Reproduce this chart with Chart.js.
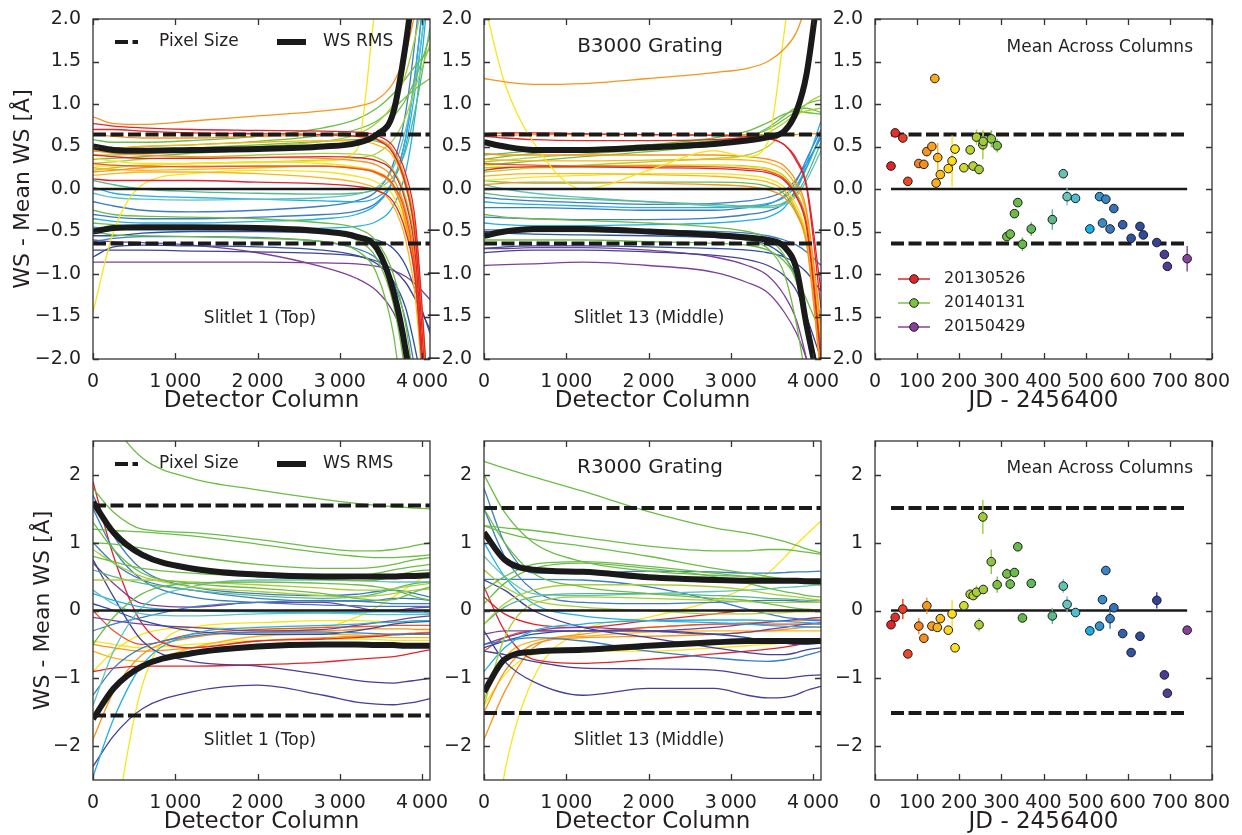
<!DOCTYPE html>
<html>
<head>
<meta charset="utf-8">
<title>Wavelength solution stability</title>
<script src="https://cdn.jsdelivr.net/npm/chart.js@4/dist/chart.umd.min.js"></script>
<style>
  html, body { margin: 0; padding: 0; background: #fff; overflow: hidden; }
  #fig { position: relative; width: 1242px; height: 835px; }
  #fig canvas { position: absolute; left: 0; top: 0; }
</style>
</head>
<body>
<div id="fig">
  <canvas id="p-b1" width="1242" height="835"></canvas>
  <canvas id="p-b13" width="1242" height="835"></canvas>
  <canvas id="p-bmean" width="1242" height="835"></canvas>
  <canvas id="p-r1" width="1242" height="835"></canvas>
  <canvas id="p-r13" width="1242" height="835"></canvas>
  <canvas id="p-rmean" width="1242" height="835"></canvas>
</div>
<script>
/* ═══════════════════════════════════════════
   WiFeS wavelength solution residuals
   ═══════════════════════════════════════════ */

// ── Detector columns where each fit is sampled ──
const COLS = [0, 250, 600, 1200, 2000, 2800, 3200, 3450, 3650, 3800, 3920, 4096];

// ── B3000, slitlet 1 ──────────────────────
const B1_RMS_HI = [0.50, 0.46, 0.45, 0.46, 0.47, 0.50, 0.54, 0.64, 0.90, 1.7, 2.6, 4];
const B1_RMS_LO = [-0.50, -0.46, -0.45, -0.45, -0.46, -0.50, -0.56, -0.70, -1.2, -1.9, -2.8, -4];
const B1_FITS = [
  ['red',    [0.77, 0.74, 0.72, 0.70, 0.69, 0.68, 0.67, 0.63, 0.50, 0.18, -0.4, -2.8]],
  ['red',    [0.70, 0.70, 0.68, 0.66, 0.65, 0.64, 0.62, 0.58, 0.42, 0.05, -0.6, -3.2]],
  ['red',    [0.12, 0.10, 0.10, 0.10, 0.08, 0.06, 0.03, -0.02, -0.15, -0.5, -1.1, -3.5]],
  ['red',    [0.40, 0.38, 0.36, 0.36, 0.37, 0.38, 0.37, 0.33, 0.20, -0.15, -0.8, -3.5]],
  ['verm',   [0.30, 0.28, 0.27, 0.26, 0.27, 0.27, 0.24, 0.19, 0.05, -0.3, -1.0, -3.5]],
  ['orange', [0.85, 0.77, 0.76, 0.80, 0.86, 0.92, 0.97, 1.05, 1.25, 1.6, 2.1, 3.0]],
  ['orange', [0.64, 0.62, 0.60, 0.60, 0.62, 0.63, 0.62, 0.59, 0.45, 0.1, -0.5, -2.8]],
  ['orange', [0.45, 0.42, 0.40, 0.38, 0.37, 0.36, 0.33, 0.28, 0.12, -0.25, -0.9, -3.5]],
  ['orange', [0.20, 0.22, 0.25, 0.27, 0.27, 0.27, 0.24, 0.18, 0.02, -0.4, -1.1, -3.5]],
  ['amber',  [0.50, 0.48, 0.50, 0.52, 0.55, 0.57, 0.56, 0.52, 0.38, 0.02, -0.6, -3.0]],
  ['amber',  [0.25, 0.23, 0.22, 0.23, 0.25, 0.27, 0.25, 0.20, 0.05, -0.35, -1.0, -3.5]],
  ['amber',  [0.16, 0.18, 0.20, 0.20, 0.18, 0.13, 0.08, 0.0, -0.2, -0.6, -1.3, -3.5]],
  ['yellow', [-1.45, -0.50, 0.05, 0.18, 0.22, 0.20, 0.15, 0.08, -0.08, -0.45, -1.1, -3.5]],
  ['yellow', [0.36, 0.33, 0.30, 0.30, 0.31, 0.33, 0.45, 2.3, 3.5, 4.5, 5, 5]],
  ['yellow', [0.27, 0.27, 0.28, 0.30, 0.32, 0.30, 0.26, 0.20, 0.05, -0.35, -1.0, -3.5]],
  ['lime',   [0.40, 0.40, 0.42, 0.45, 0.50, 0.56, 0.64, 0.78, 1.0, 1.35, 1.8, 2.6]],
  ['lime',   [0.30, 0.32, 0.35, 0.37, 0.40, 0.42, 0.41, 0.37, 0.22, -0.1, -0.7, -3.0]],
  ['lime',   [0.22, 0.25, 0.28, 0.30, 0.32, 0.34, 0.36, 0.42, 0.58, 0.85, 1.2, 1.7]],
  ['green',  [0.58, 0.55, 0.55, 0.57, 0.62, 0.72, 0.82, 0.95, 1.12, 1.3, 1.45, 1.65]],
  ['green',  [0.50, 0.48, 0.50, 0.52, 0.56, 0.63, 0.70, 0.80, 0.95, 1.08, 1.18, 1.3]],
  ['green',  [0.35, 0.36, 0.38, 0.42, 0.46, 0.51, 0.56, 0.66, 0.85, 1.05, 1.3, 1.8]],
  ['green',  [0.45, 0.44, 0.45, 0.48, 0.52, 0.56, 0.58, 0.56, 0.42, 0.05, -0.6, -2.8]],
  ['green',  [-0.25, -0.30, -0.32, -0.33, -0.35, -0.40, -0.46, -0.62, -1.0, -1.6, -2.4, -3.5]],
  ['green',  [-0.50, -0.54, -0.55, -0.56, -0.58, -0.62, -0.72, -1.0, -1.7, -2.8, -3.5, -4]],
  ['green',  [-0.40, -0.42, -0.45, -0.47, -0.48, -0.52, -0.60, -0.82, -1.35, -2.2, -3.2, -4]],
  ['sea',    [0.10, 0.05, 0.00, -0.03, -0.05, -0.06, -0.05, 0.00, 0.15, 0.45, 0.95, 1.9]],
  ['teal',   [-0.05, -0.10, -0.12, -0.13, -0.12, -0.10, -0.06, 0.02, 0.25, 0.7, 1.3, 2.5]],
  ['cyan',   [-0.35, -0.38, -0.40, -0.40, -0.38, -0.35, -0.30, -0.18, 0.10, 0.6, 1.4, 3]],
  ['cyan',   [0.02, -0.05, -0.08, -0.10, -0.12, -0.14, -0.15, -0.10, 0.10, 0.5, 1.2, 2.6]],
  ['cyan',   [-0.45, -0.47, -0.48, -0.48, -0.47, -0.46, -0.44, -0.38, -0.2, 0.2, 0.9, 2.5]],
  ['blue',   [-0.15, -0.20, -0.25, -0.27, -0.25, -0.20, -0.14, -0.02, 0.30, 0.9, 1.8, 3.5]],
  ['blue',   [-0.30, -0.33, -0.35, -0.35, -0.33, -0.30, -0.26, -0.16, 0.10, 0.6, 1.4, 3]],
  ['blue',   [-0.62, -0.58, -0.56, -0.56, -0.57, -0.62, -0.70, -0.82, -1.1, -1.55, -2.2, -4]],
  ['navy',   [-0.55, -0.55, -0.52, -0.50, -0.50, -0.52, -0.55, -0.60, -0.70, -0.9, -1.2, -1.7]],
  ['navy',   [-0.80, -0.68, -0.66, -0.67, -0.68, -0.72, -0.78, -0.88, -1.08, -1.4, -1.9, -2.8]],
  ['indigo', [-0.72, -0.72, -0.72, -0.73, -0.74, -0.76, -0.79, -0.85, -0.95, -1.1, -1.3, -1.65]],
  ['purple', [-0.60, -0.62, -0.63, -0.66, -0.75, -0.92, -1.05, -1.2, -1.45, -1.8, -2.3, -3]],
  ['purple', [-0.86, -0.86, -0.86, -0.86, -0.86, -0.87, -0.88, -0.91, -0.96, -1.03, -1.12, -1.3]],
];

// ── B3000, slitlet 13 ─────────────────────
const B13_RMS_HI = [0.55, 0.50, 0.46, 0.46, 0.49, 0.53, 0.57, 0.61, 0.68, 0.92, 1.35, 2.6];
const B13_RMS_LO = [-0.55, -0.50, -0.47, -0.47, -0.50, -0.54, -0.57, -0.60, -0.68, -0.95, -1.6, -2.4];
const B13_FITS = [
  ['orange', [1.30, 1.26, 1.23, 1.24, 1.30, 1.37, 1.42, 1.50, 1.65, 1.85, 2.2, 3.0]],
  ['yellow', [2.2, 1.25, 0.55, 0.0, 0.22, 0.45, 0.38, 0.55, 1.85, 3, 4, 5]],
  ['red',    [0.65, 0.66, 0.66, 0.65, 0.64, 0.63, 0.62, 0.60, 0.52, 0.32, 0.02, -1.4]],
  ['red',    [0.22, 0.25, 0.26, 0.26, 0.25, 0.24, 0.22, 0.19, 0.10, -0.1, -0.45, -2.0]],
  ['red',    [0.62, 0.60, 0.58, 0.57, 0.57, 0.58, 0.60, 0.59, 0.52, 0.35, 0.05, -1.2]],
  ['verm',   [0.30, 0.29, 0.28, 0.27, 0.27, 0.26, 0.24, 0.21, 0.12, -0.08, -0.4, -1.9]],
  ['orange', [0.42, 0.40, 0.40, 0.40, 0.40, 0.40, 0.38, 0.35, 0.27, 0.08, -0.25, -1.6]],
  ['orange', [0.05, 0.07, 0.08, 0.08, 0.07, 0.05, 0.03, -0.01, -0.1, -0.3, -0.65, -2.2]],
  ['orange', [0.62, 0.63, 0.64, 0.64, 0.64, 0.64, 0.64, 0.64, 0.64, 0.64, 0.65, 0.65]],
  ['amber',  [0.35, 0.34, 0.33, 0.33, 0.34, 0.35, 0.34, 0.31, 0.22, 0.02, -0.3, -1.7]],
  ['amber',  [0.15, 0.17, 0.18, 0.18, 0.17, 0.15, 0.12, 0.08, -0.02, -0.25, -0.6, -2.2]],
  ['yellow', [0.28, 0.26, 0.25, 0.26, 0.28, 0.28, 0.26, 0.23, 0.13, -0.08, -0.4, -1.8]],
  ['yellow', [0.10, 0.12, 0.14, 0.16, 0.18, 0.18, 0.16, 0.12, 0.02, -0.2, -0.55, -2.0]],
  ['lime',   [0.32, 0.34, 0.37, 0.41, 0.46, 0.52, 0.58, 0.66, 0.78, 0.88, 0.92, 0.95]],
  ['lime',   [0.20, 0.22, 0.25, 0.28, 0.32, 0.36, 0.40, 0.50, 0.68, 0.85, 1.0, 1.1]],
  ['lime',   [0.25, 0.25, 0.26, 0.27, 0.28, 0.28, 0.27, 0.24, 0.15, -0.05, -0.38, -1.8]],
  ['green',  [0.35, 0.38, 0.42, 0.46, 0.52, 0.60, 0.68, 0.78, 0.88, 0.92, 0.90, 0.88]],
  ['green',  [0.28, 0.30, 0.33, 0.38, 0.44, 0.52, 0.60, 0.72, 0.86, 0.95, 0.95, 0.90]],
  ['green',  [0.40, 0.42, 0.45, 0.48, 0.52, 0.57, 0.62, 0.70, 0.82, 0.92, 1.0, 1.05]],
  ['green',  [0.10, 0.08, 0.07, 0.07, 0.08, 0.08, 0.07, 0.03, -0.06, -0.28, -0.62, -2.0]],
  ['green',  [-0.30, -0.33, -0.35, -0.37, -0.40, -0.45, -0.50, -0.58, -0.78, -1.1, -1.5, -2.3]],
  ['green',  [-0.55, -0.52, -0.50, -0.50, -0.52, -0.55, -0.60, -0.70, -1.0, -1.6, -2.3, -3.5]],
  ['green',  [-0.60, -0.60, -0.60, -0.60, -0.62, -0.64, -0.66, -0.72, -0.85, -1.05, -1.3, -1.7]],
  ['sea',    [-0.05, -0.08, -0.10, -0.12, -0.15, -0.18, -0.20, -0.20, -0.16, -0.05, 0.15, 0.55]],
  ['teal',   [0.05, 0.00, -0.05, -0.10, -0.15, -0.20, -0.22, -0.22, -0.18, -0.08, 0.1, 0.45]],
  ['cyan',   [-0.40, -0.42, -0.43, -0.43, -0.42, -0.40, -0.37, -0.33, -0.22, 0.0, 0.3, 0.8]],
  ['cyan',   [-0.15, -0.17, -0.18, -0.20, -0.22, -0.22, -0.20, -0.17, -0.1, 0.05, 0.25, 0.65]],
  ['blue',   [-0.10, -0.12, -0.14, -0.16, -0.18, -0.17, -0.14, -0.10, -0.02, 0.12, 0.3, 0.6]],
  ['blue',   [-0.22, -0.22, -0.22, -0.23, -0.25, -0.25, -0.22, -0.18, -0.08, 0.1, 0.35, 0.7]],
  ['blue',   [-0.33, -0.34, -0.35, -0.36, -0.36, -0.34, -0.30, -0.26, -0.17, 0.0, 0.25, 0.65]],
  ['blue',   [-0.48, -0.48, -0.47, -0.47, -0.48, -0.50, -0.52, -0.55, -0.60, -0.66, -0.74, -0.9]],
  ['navy',   [-0.50, -0.52, -0.53, -0.54, -0.55, -0.57, -0.60, -0.66, -0.80, -1.05, -1.5, -2.5]],
  ['navy',   [-0.70, -0.68, -0.67, -0.67, -0.68, -0.70, -0.72, -0.75, -0.80, -0.88, -0.98, -1.2]],
  ['indigo', [-0.75, -0.73, -0.72, -0.72, -0.74, -0.78, -0.83, -0.90, -1.02, -1.2, -1.5, -2.0]],
  ['purple', [-0.90, -0.89, -0.88, -0.86, -0.90, -0.98, -1.10, -1.22, -1.45, -1.7, -2.0, -2.6]],
  ['purple', [-0.70, -0.70, -0.69, -0.69, -0.72, -0.80, -0.90, -1.02, -1.25, -1.55, -2.0, -2.8]],
];

// ── R3000, slitlet 1 ──────────────────────
const R1_RMS_HI = [1.6, 1.15, 0.82, 0.62, 0.53, 0.50, 0.50, 0.50, 0.50, 0.51, 0.51, 0.52];
const R1_RMS_LO = [-1.6, -1.15, -0.82, -0.63, -0.53, -0.50, -0.50, -0.51, -0.51, -0.52, -0.52, -0.52];
const R1_FITS = [
  ['green',  [3.3, 2.75, 2.25, 1.95, 1.78, 1.64, 1.58, 1.55, 1.53, 1.52, 1.51, 1.5]],
  ['green',  [1.80, 1.45, 1.20, 1.15, 1.05, 0.92, 0.88, 0.88, 0.90, 0.93, 0.96, 1.0]],
  ['green',  [1.20, 1.18, 1.16, 1.10, 0.98, 0.85, 0.80, 0.78, 0.78, 0.79, 0.80, 0.82]],
  ['green',  [1.0, 0.98, 0.92, 0.80, 0.68, 0.62, 0.62, 0.64, 0.68, 0.72, 0.75, 0.78]],
  ['green',  [0.8, 0.72, 0.62, 0.55, 0.50, 0.48, 0.50, 0.55, 0.60, 0.63, 0.65, 0.68]],
  ['green',  [-0.5, -0.1, 0.25, 0.40, 0.42, 0.40, 0.38, 0.35, 0.30, 0.25, 0.20, 0.15]],
  ['green',  [1.6, 1.2, 0.85, 0.62, 0.50, 0.46, 0.44, 0.45, 0.50, 0.55, 0.58, 0.6]],
  ['green',  [1.3, 0.9, 0.55, 0.40, 0.33, 0.25, 0.18, 0.15, 0.16, 0.22, 0.28, 0.35]],
  ['lime',   [0.45, 0.45, 0.45, 0.42, 0.38, 0.33, 0.30, 0.30, 0.32, 0.35, 0.37, 0.40]],
  ['lime',   [0.9, 0.7, 0.5, 0.35, 0.28, 0.22, 0.20, 0.22, 0.25, 0.28, 0.30, 0.32]],
  ['sea',    [0.6, 0.5, 0.4, 0.3, 0.22, 0.18, 0.20, 0.25, 0.32, 0.37, 0.40, 0.42]],
  ['teal',   [-1.4, -0.6, 0.05, 0.35, 0.45, 0.45, 0.44, 0.43, 0.42, 0.42, 0.42, 0.42]],
  ['teal',   [0.3, 0.1, -0.05, -0.08, -0.05, -0.04, -0.05, -0.06, -0.06, -0.06, -0.06, -0.06]],
  ['cyan',   [0.25, 0.15, 0.05, 0.0, -0.02, -0.03, -0.03, -0.02, -0.02, -0.03, -0.03, -0.04]],
  ['cyan',   [-2.45, -1.6, -0.8, -0.35, -0.25, -0.22, -0.2, -0.18, -0.17, -0.16, -0.15, -0.15]],
  ['blue',   [1.5, 0.9, 0.45, 0.2, 0.12, 0.08, 0.07, 0.06, 0.06, 0.06, 0.06, 0.06]],
  ['blue',   [1.7, 1.1, 0.6, 0.35, 0.25, 0.22, 0.24, 0.28, 0.30, 0.28, 0.25, 0.2]],
  ['blue',   [-1.25, -0.85, -0.55, -0.38, -0.32, -0.32, -0.33, -0.34, -0.35, -0.35, -0.35, -0.35]],
  ['blue',   [-0.3, -0.2, -0.1, 0.05, 0.12, 0.15, 0.14, 0.12, 0.10, 0.10, 0.10, 0.10]],
  ['blue',   [1.0, 0.7, 0.45, 0.30, 0.18, 0.14, 0.14, 0.15, 0.18, 0.18, 0.17, 0.15]],
  ['navy',   [0.1, 0.0, -0.15, -0.3, -0.35, -0.35, -0.30, -0.25, -0.20, -0.18, -0.17, -0.16]],
  ['indigo', [-2.3, -1.85, -1.45, -1.2, -1.1, -1.25, -1.35, -1.38, -1.39, -1.37, -1.35, -1.3]],
  ['indigo', [0.75, 0.2, -0.45, -0.75, -0.82, -0.95, -1.03, -1.06, -1.07, -1.05, -1.03, -1.0]],
  ['purple', [0.7, 0.4, 0.1, 0.05, 0.12, 0.12, 0.05, 0.0, 0.0, 0.02, 0.04, 0.05]],
  ['purple', [-0.1, -0.15, -0.2, -0.25, -0.3, -0.28, -0.22, -0.18, -0.15, -0.12, -0.1, -0.08]],
  ['red',    [1.9, 0.8, -0.2, -0.55, -0.45, -0.42, -0.40, -0.38, -0.36, -0.35, -0.34, -0.33]],
  ['red',    [-0.9, -0.85, -0.82, -0.82, -0.80, -0.76, -0.72, -0.70, -0.68, -0.65, -0.62, -0.58]],
  ['verm',   [0.0, -0.3, -0.5, -0.35, -0.28, -0.25, -0.24, -0.23, -0.22, -0.22, -0.22, -0.22]],
  ['orange', [-1.9, -1.2, -0.65, -0.4, -0.32, -0.30, -0.28, -0.27, -0.27, -0.27, -0.28, -0.28]],
  ['orange', [-0.5, -0.55, -0.6, -0.55, -0.45, -0.40, -0.38, -0.36, -0.35, -0.34, -0.33, -0.32]],
  ['amber',  [-0.6, -0.7, -0.75, -0.55, -0.38, -0.35, -0.36, -0.38, -0.40, -0.40, -0.40, -0.40]],
  ['yellow', [-6, -3.4, -1.1, -0.25, -0.18, -0.15, -0.15, -0.16, -0.17, -0.17, -0.16, -0.15]],
  ['yellow', [-0.9, -0.6, -0.35, -0.25, -0.28, -0.25, -0.1, 0.05, 0.2, 0.32, 0.42, 0.55]],
  ['yellow', [-0.45, -0.5, -0.55, -0.5, -0.44, -0.42, -0.42, -0.43, -0.44, -0.44, -0.44, -0.44]],
];

// ── R3000, slitlet 13 ─────────────────────
const R13_RMS_HI = [1.15, 0.75, 0.60, 0.57, 0.49, 0.45, 0.44, 0.44, 0.44, 0.44, 0.43, 0.43];
const R13_RMS_LO = [-1.2, -0.72, -0.61, -0.58, -0.52, -0.47, -0.45, -0.45, -0.45, -0.45, -0.45, -0.45];
const R13_FITS = [
  ['green',  [2.2, 2.1, 1.97, 1.76, 1.46, 1.22, 1.14, 1.08, 1.02, 0.96, 0.91, 0.85]],
  ['green',  [2.0, 1.45, 1.0, 0.72, 0.58, 0.52, 0.50, 0.48, 0.47, 0.46, 0.46, 0.45]],
  ['green',  [1.25, 1.22, 1.18, 1.08, 0.95, 0.88, 0.88, 0.90, 0.90, 0.88, 0.86, 0.83]],
  ['green',  [1.25, 1.15, 1.05, 0.95, 0.80, 0.62, 0.55, 0.50, 0.47, 0.45, 0.43, 0.40]],
  ['green',  [0.3, 0.5, 0.68, 0.72, 0.65, 0.55, 0.50, 0.46, 0.44, 0.42, 0.40, 0.38]],
  ['green',  [0.1, 0.4, 0.62, 0.70, 0.62, 0.50, 0.40, 0.33, 0.28, 0.25, 0.22, 0.2]],
  ['green',  [1.5, 1.0, 0.55, 0.35, 0.25, 0.18, 0.15, 0.10, 0.06, 0.03, 0.02, 0.0]],
  ['lime',   [-0.2, 0.1, 0.3, 0.38, 0.38, 0.35, 0.30, 0.25, 0.22, 0.20, 0.18, 0.15]],
  ['lime',   [-1.4, -0.4, 0.1, 0.2, 0.18, 0.15, 0.13, 0.12, 0.12, 0.12, 0.12, 0.12]],
  ['lime',   [0.6, 0.35, 0.15, 0.05, 0.0, -0.05, -0.05, -0.04, -0.03, -0.02, -0.02, -0.02]],
  ['sea',    [-0.2, 0.05, 0.2, 0.25, 0.25, 0.22, 0.20, 0.18, 0.17, 0.16, 0.15, 0.15]],
  ['teal',   [0.8, 0.5, 0.25, 0.22, 0.25, 0.28, 0.30, 0.32, 0.34, 0.35, 0.36, 0.38]],
  ['cyan',   [1.0, 0.5, 0.1, -0.08, -0.15, -0.18, -0.2, -0.22, -0.23, -0.24, -0.24, -0.25]],
  ['cyan',   [-0.9, -0.55, -0.3, -0.2, -0.15, -0.14, -0.14, -0.15, -0.16, -0.17, -0.18, -0.2]],
  ['blue',   [0.46, 0.46, 0.46, 0.45, 0.35, 0.15, 0.02, -0.05, -0.1, -0.12, -0.14, -0.15]],
  ['blue',   [1.8, 1.0, 0.55, 0.55, 0.58, 0.57, 0.55, 0.55, 0.56, 0.57, 0.57, 0.58]],
  ['blue',   [-0.5, -0.45, -0.4, -0.45, -0.6, -0.7, -0.74, -0.75, -0.73, -0.7, -0.66, -0.6]],
  ['blue',   [1.5, 0.8, 0.3, 0.12, 0.10, 0.12, 0.14, 0.15, 0.15, 0.14, 0.13, 0.12]],
  ['navy',   [-0.55, -0.45, -0.35, -0.3, -0.3, -0.35, -0.40, -0.45, -0.48, -0.5, -0.5, -0.48]],
  ['indigo', [-0.3, -0.75, -1.05, -1.25, -1.15, -1.15, -1.25, -1.29, -1.28, -1.24, -1.18, -1.12]],
  ['indigo', [-0.6, -0.65, -0.75, -0.85, -0.86, -0.88, -0.95, -1.0, -1.0, -0.98, -0.96, -0.95]],
  ['indigo', [0.45, 0.3, 0.0, -0.25, -0.4, -0.55, -0.62, -0.65, -0.65, -0.62, -0.58, -0.55]],
  ['purple', [-0.35, -0.3, -0.3, -0.3, -0.3, -0.25, -0.2, -0.17, -0.15, -0.13, -0.12, -0.1]],
  ['purple', [-0.5, -0.4, -0.3, -0.25, -0.3, -0.35, -0.32, -0.28, -0.25, -0.22, -0.2, -0.18]],
  ['red',    [0.35, -0.3, -0.72, -0.78, -0.72, -0.64, -0.6, -0.57, -0.54, -0.51, -0.48, -0.45]],
  ['red',    [0.2, -0.05, -0.2, -0.25, -0.15, -0.05, 0.0, 0.0, 0.0, 0.0, 0.0, 0.0]],
  ['verm',   [-0.6, -0.4, -0.3, -0.3, -0.25, -0.2, -0.2, -0.2, -0.2, -0.2, -0.2, -0.2]],
  ['orange', [-1.9, -1.2, -0.55, -0.35, -0.25, -0.2, -0.18, -0.17, -0.16, -0.15, -0.14, -0.13]],
  ['orange', [-1.5, -0.9, -0.5, -0.4, -0.38, -0.35, -0.32, -0.30, -0.28, -0.26, -0.25, -0.24]],
  ['amber',  [-1.3, -0.7, -0.45, -0.38, -0.32, -0.30, -0.30, -0.30, -0.30, -0.30, -0.30, -0.30]],
  ['yellow', [-4.5, -2.4, -1.0, -0.3, -0.1, 0.15, 0.35, 0.55, 0.78, 0.98, 1.12, 1.32]],
  ['yellow', [-1.4, -0.95, -0.65, -0.6, -0.6, -0.55, -0.52, -0.50, -0.48, -0.47, -0.46, -0.45]],
];

// ── Pixel size (Å) ────────────────────────
const B_PIXEL = 0.64;
const R1_PIXEL = 1.55;
const R13_PIXEL = 1.51;
const R_MEAN_PIXEL = 1.51;

// ── Mean across columns, per night ────────
const B_JD = [38, 48, 66, 78, 104, 116, 123, 135, 142, 145, 149, 155, 174, 183, 190, 211, 226, 233, 241, 247,
  256, 257, 276, 290, 313, 321, 331, 339, 350, 371, 421, 447, 456, 476, 510, 533, 540, 548, 558, 567,
  588, 608, 629, 637, 669, 687, 694, 741];
const B_MEAN = [0.27, 0.66, 0.60, 0.09, 0.30, 0.29, 0.44, 0.50, 1.30, 0.07, 0.37, 0.17, 0.24, 0.33, 0.47, 0.25, 0.46, 0.27, 0.61, 0.23,
  0.52, 0.56, 0.59, 0.51, -0.56, -0.53, -0.29, -0.16, -0.65, -0.47, -0.36, 0.18, -0.09, -0.11, -0.47, -0.09, -0.40, -0.12, -0.47, -0.23,
  -0.42, -0.58, -0.44, -0.54, -0.63, -0.77, -0.91, -0.82];
const B_ERR = [0.03, 0.03, 0.03, 0.03, 0.03, 0.03, 0.03, 0.03, 0.03, 0.03, 0.17, 0.03, 0.03, 0.30, 0.03, 0.03, 0.03, 0.03, 0.09, 0.06,
  0.17, 0.10, 0.10, 0.08, 0.03, 0.03, 0.03, 0.03, 0.08, 0.08, 0.12, 0.03, 0.10, 0.03, 0.03, 0.03, 0.03, 0.03, 0.03, 0.03,
  0.03, 0.03, 0.03, 0.03, 0.03, 0.03, 0.03, 0.15];

const R_JD = [38, 48, 66, 78, 104, 116, 123, 135, 148, 155, 174, 183, 190, 211, 226, 233, 241, 247, 256, 257,
  276, 290, 313, 321, 331, 339, 350, 371, 421, 447, 456, 476, 510, 533, 540, 548, 558, 567, 588, 608,
  629, 669, 687, 694, 741];
const R_MEAN = [-0.21, -0.10, 0.02, -0.64, -0.23, -0.41, 0.07, -0.23, -0.25, -0.12, -0.29, -0.05, -0.55, 0.07, 0.24, 0.22, 0.27, -0.21, 1.38, 0.31,
  0.72, 0.38, 0.54, 0.39, 0.56, 0.94, -0.11, 0.40, -0.08, 0.36, 0.09, -0.03, -0.30, -0.23, 0.16, 0.59, -0.12, 0.04, -0.34, -0.62,
  -0.38, 0.15, -0.95, -1.22, -0.29];
const R_ERR = [0.04, 0.04, 0.15, 0.04, 0.12, 0.04, 0.12, 0.04, 0.04, 0.04, 0.04, 0.20, 0.04, 0.04, 0.04, 0.04, 0.10, 0.10, 0.25, 0.04,
  0.18, 0.12, 0.08, 0.08, 0.04, 0.04, 0.04, 0.04, 0.12, 0.10, 0.12, 0.04, 0.04, 0.04, 0.04, 0.04, 0.15, 0.04, 0.04, 0.04,
  0.04, 0.12, 0.04, 0.04, 0.04];

const LEGEND_NIGHTS = ['20130526', '20140131', '20150429'];
const LEGEND_JD = [38, 288, 741];

// ── Ticks ─────────────────────────────────
const COL_TICKS = [0, 1000, 2000, 3000, 4000];
const JD_TICKS = [0, 100, 200, 300, 400, 500, 600, 700, 800];
const B_Y_TICKS = [-2, -1.5, -1, -0.5, 0, 0.5, 1, 1.5, 2];
const R_Y_TICKS = [-2, -1, 0, 1, 2];

// ── Style ─────────────────────────────────
const FONT = '"DejaVu Sans", "Liberation Sans", sans-serif';
const INK = '#231f20';
const FRAME = '#333333';
const TICK_LEN = 6;
const X_H = 54;
const DASH = [13, 4.5];

const PAL = {
  red: '#e3242b', verm: '#ef5123', orange: '#f7941d', amber: '#fdb515', yellow: '#f7e51b',
  lime: '#a8cf3a', green: '#6cbd45', sea: '#55b98a', teal: '#62c3bd', cyan: '#22aee6',
  blue: '#3b7cc3', navy: '#2e4f9f', indigo: '#443f98', purple: '#7e3f98',
};

// colour of a night, by date
const DATE_STOPS = [
  [38, '#e3242b'], [80, '#ef4a24'], [105, '#f6851f'], [140, '#faa61a'], [172, '#ffd41c'],
  [192, '#fbe51e'], [215, '#c3d92f'], [250, '#a3cd39'], [290, '#7cc142'], [360, '#5eb94a'],
  [421, '#5cb98c'], [460, '#68c6c2'], [510, '#17afe9'], [545, '#3b86c8'], [600, '#2f55a4'],
  [665, '#2f4299'], [690, '#4e3c95'], [741, '#88419a'],
];

function hexRgb(h) {
  return [1, 3, 5].map(i => parseInt(h.slice(i, i + 2), 16));
}

function dateColor(jd) {
  if (jd <= DATE_STOPS[0][0]) return DATE_STOPS[0][1];
  for (let i = 1; i < DATE_STOPS.length; i++) {
    const [j1, c1] = DATE_STOPS[i];
    if (jd <= j1) {
      const [j0, c0] = DATE_STOPS[i - 1];
      const t = (jd - j0) / (j1 - j0);
      const a = hexRgb(c0), b = hexRgb(c1);
      const m = a.map((v, k) => Math.round(v + (b[k] - v) * t));
      return `rgb(${m[0]},${m[1]},${m[2]})`;
    }
  }
  return DATE_STOPS[DATE_STOPS.length - 1][1];
}

Chart.defaults.font.family = FONT;
Chart.defaults.color = INK;

// ── Frame + inward ticks on all four sides ──
const framePlugin = {
  id: 'frame',
  afterDatasetsDraw(chart) {
    const { ctx, chartArea: a, scales: { x, y } } = chart;
    ctx.save();
    ctx.strokeStyle = FRAME;
    ctx.lineWidth = 1.3;
    ctx.beginPath();
    x.ticks.forEach(t => {
      const px = Math.round(x.getPixelForValue(t.value)) + 0.5;
      ctx.moveTo(px, a.bottom); ctx.lineTo(px, a.bottom - TICK_LEN);
      ctx.moveTo(px, a.top); ctx.lineTo(px, a.top + TICK_LEN);
    });
    y.ticks.forEach(t => {
      const py = Math.round(y.getPixelForValue(t.value)) + 0.5;
      ctx.moveTo(a.left, py); ctx.lineTo(a.left + TICK_LEN, py);
      ctx.moveTo(a.right, py); ctx.lineTo(a.right - TICK_LEN, py);
    });
    ctx.stroke();
    ctx.strokeRect(a.left, a.top, a.right - a.left, a.bottom - a.top);
    ctx.restore();
  },
};

// ── Error bars, drawn just under the markers ──
const errorBarPlugin = {
  id: 'errbars',
  beforeDatasetDraw(chart, args) {
    const ds = chart.data.datasets[args.index];
    if (!ds.errors) return;
    const { ctx, chartArea: a, scales: { x, y } } = chart;
    ctx.save();
    ctx.beginPath();
    ctx.rect(a.left, a.top, a.right - a.left, a.bottom - a.top);
    ctx.clip();
    ctx.lineWidth = 1.4;
    ds.data.forEach((p, i) => {
      const px = x.getPixelForValue(p.x);
      ctx.strokeStyle = ds.pointBackgroundColor[i];
      ctx.beginPath();
      ctx.moveTo(px, y.getPixelForValue(p.y - ds.errors[i]));
      ctx.lineTo(px, y.getPixelForValue(p.y + ds.errors[i]));
      ctx.stroke();
    });
    ctx.restore();
  },
};

// ── In-panel labels and legend swatches ───
const notesPlugin = {
  id: 'notes',
  afterDraw(chart, args, opts) {
    const { ctx, chartArea: a } = chart;
    (opts.items || []).forEach(n => {
      ctx.save();
      if (n.type === 'dash' || n.type === 'solid' || n.type === 'marker') {
        ctx.beginPath();
        ctx.moveTo(a.left + n.x0, a.top + n.y);
        ctx.lineTo(a.left + n.x1, a.top + n.y);
        if (n.type === 'dash') {
          ctx.setLineDash(DASH); ctx.lineWidth = 4; ctx.strokeStyle = '#1a1a1a';
        } else if (n.type === 'solid') {
          ctx.lineWidth = 6; ctx.strokeStyle = '#1a1a1a';
        } else {
          ctx.lineWidth = 1.5; ctx.strokeStyle = n.color;
        }
        ctx.stroke();
        if (n.type === 'marker') {
          ctx.beginPath();
          ctx.arc(a.left + (n.x0 + n.x1) / 2, a.top + n.y, 4.3, 0, Math.PI * 2);
          ctx.fillStyle = n.color; ctx.fill();
          ctx.lineWidth = 1; ctx.strokeStyle = '#1a1a1a'; ctx.stroke();
        }
      }
      if (n.text) {
        ctx.font = `${n.size || 17}px ${FONT}`;
        ctx.fillStyle = INK;
        ctx.textAlign = n.align || 'center';
        ctx.textBaseline = 'middle';
        ctx.fillText(n.text, a.left + n.tx, a.top + n.ty);
      }
      ctx.restore();
    });
  },
};

// ── Dataset builders ──────────────────────
function hline(y, x0, x1, dashed) {
  return {
    data: [{ x: x0, y }, { x: x1, y }],
    borderColor: '#1a1a1a',
    borderWidth: dashed ? 4 : 2.5,
    borderDash: dashed ? DASH : [],
    borderCapStyle: 'butt',
    pointRadius: 0,
  };
}

function rmsLine(vals) {
  return {
    data: COLS.map((c, i) => ({ x: c, y: vals[i] })),
    borderColor: '#1a1a1a',
    borderWidth: 6,
    pointRadius: 0,
    cubicInterpolationMode: 'monotone',
  };
}

function fitLine([key, vals]) {
  return {
    data: COLS.map((c, i) => ({ x: c, y: vals[i] })),
    borderColor: PAL[key],
    borderWidth: 1.3,
    pointRadius: 0,
    cubicInterpolationMode: 'monotone',
  };
}

function residualSets(fits, hi, lo, pixel) {
  // overlays come first so they are painted above the individual fits
  return [
    rmsLine(hi), rmsLine(lo),
    hline(pixel, 0, 4096, true), hline(-pixel, 0, 4096, true),
    hline(0, 0, 4096, false),
    ...fits.map(fitLine),
  ];
}

function meanSets(jd, mean, err, pixel) {
  const first = jd[0], last = jd[jd.length - 1];
  const colors = jd.map(dateColor);
  return [
    {
      data: jd.map((d, i) => ({ x: d, y: mean[i] })),
      errors: err,
      showLine: false,
      pointRadius: 4.3,
      pointBorderWidth: 1,
      pointBorderColor: '#1a1a1a',
      pointBackgroundColor: colors,
    },
    hline(pixel, first, last, true), hline(-pixel, first, last, true),
    hline(0, first, last, false),
  ];
}

const colLabel = v => (v === 0 ? '0' : `${v / 1000}\u2009000`);
const fmtTenth = v => v.toFixed(1).replace('-', '\u2212');
const fmtInt = v => String(v).replace('-', '\u2212');

// ── One panel = one full-size canvas, placed by layout padding ──
function panel(id, box, cfg) {
  const yW = cfg.yW || 70;
  return new Chart(document.getElementById(id), {
    type: 'line',
    data: { datasets: cfg.datasets },
    options: {
      responsive: false,
      animation: false,
      events: [],
      layout: {
        padding: { left: box.l - yW, top: box.t, right: 1242 - box.r, bottom: 835 - box.b - X_H },
      },
      elements: { line: { capBezierPoints: false } },
      plugins: {
        legend: { display: false },
        tooltip: { enabled: false },
        notes: { items: cfg.notes },
      },
      scales: {
        x: {
          type: 'linear', min: 0, max: cfg.xMax,
          afterBuildTicks: s => { s.ticks = cfg.xTicks.map(value => ({ value })); },
          afterFit: s => { s.height = X_H; },
          grid: { display: false }, border: { display: false },
          ticks: { autoSkip: false, maxRotation: 0, padding: 4, color: INK, font: { size: 19 }, callback: cfg.xFmt },
          title: { display: true, text: cfg.xTitle, color: INK, font: { size: 23, lineHeight: 1 }, padding: 0 },
        },
        y: {
          type: 'linear', min: cfg.yMin, max: cfg.yMax,
          afterBuildTicks: s => { s.ticks = cfg.yTicks.map(value => ({ value })); },
          afterFit: s => { s.width = yW; },
          grid: { display: false }, border: { display: false },
          ticks: { autoSkip: false, padding: 4, color: INK, font: { size: 19 }, callback: cfg.yFmt },
          title: { display: !!cfg.yTitle, text: cfg.yTitle || '', color: INK, font: { size: 22, lineHeight: 1 }, padding: 0 },
        },
      },
    },
    plugins: [errorBarPlugin, framePlugin, notesPlugin],
  });
}

const Y_TITLE = 'WS - Mean WS [Å]';

const keyNotes = [
  { type: 'dash', x0: 22, x1: 45, y: 23, text: 'Pixel Size', tx: 66, ty: 23, align: 'left' },
  { type: 'solid', x0: 184, x1: 213, y: 23, text: 'WS RMS', tx: 230, ty: 23, align: 'left' },
];

const nightNotes = LEGEND_NIGHTS.map((night, i) => ({
  type: 'marker', x0: 23, x1: 55, y: 260 + i * 24, color: dateColor(LEGEND_JD[i]),
  text: night, tx: 69, ty: 260 + i * 24, align: 'left', size: 16,
}));

// ── Top row: B3000 ────────────────────────
panel('p-b1', { l: 93, t: 19, r: 430, b: 359 }, {
  datasets: residualSets(B1_FITS, B1_RMS_HI, B1_RMS_LO, B_PIXEL),
  xMax: 4096, xTicks: COL_TICKS, xFmt: colLabel, xTitle: 'Detector Column',
  yMin: -2, yMax: 2, yTicks: B_Y_TICKS, yFmt: fmtTenth, yTitle: Y_TITLE, yW: 81,
  notes: [...keyNotes, { text: 'Slitlet 1 (Top)', tx: 167, ty: 300 }],
});

panel('p-b13', { l: 484, t: 19, r: 821, b: 359 }, {
  datasets: residualSets(B13_FITS, B13_RMS_HI, B13_RMS_LO, B_PIXEL),
  xMax: 4096, xTicks: COL_TICKS, xFmt: colLabel, xTitle: 'Detector Column',
  yMin: -2, yMax: 2, yTicks: B_Y_TICKS, yFmt: fmtTenth,
  notes: [
    { text: 'B3000 Grating', tx: 166, ty: 28, size: 20 },
    { text: 'Slitlet 13 (Middle)', tx: 165, ty: 300 },
  ],
});

panel('p-bmean', { l: 875, t: 19, r: 1212, b: 359 }, {
  datasets: meanSets(B_JD, B_MEAN, B_ERR, B_PIXEL),
  xMax: 800, xTicks: JD_TICKS, xFmt: v => String(v), xTitle: 'JD - 2456400',
  yMin: -2, yMax: 2, yTicks: B_Y_TICKS, yFmt: fmtTenth,
  notes: [{ text: 'Mean Across Columns', tx: 318, ty: 29, align: 'right' }, ...nightNotes],
});

// ── Bottom row: R3000 ─────────────────────
panel('p-r1', { l: 93, t: 441, r: 430, b: 780 }, {
  datasets: residualSets(R1_FITS, R1_RMS_HI, R1_RMS_LO, R1_PIXEL),
  xMax: 4096, xTicks: COL_TICKS, xFmt: colLabel, xTitle: 'Detector Column',
  yMin: -2.5, yMax: 2.5, yTicks: R_Y_TICKS, yFmt: fmtInt, yTitle: Y_TITLE, yW: 61,
  notes: [...keyNotes, { text: 'Slitlet 1 (Top)', tx: 167, ty: 300 }],
});

panel('p-r13', { l: 484, t: 441, r: 821, b: 780 }, {
  datasets: residualSets(R13_FITS, R13_RMS_HI, R13_RMS_LO, R13_PIXEL),
  xMax: 4096, xTicks: COL_TICKS, xFmt: colLabel, xTitle: 'Detector Column',
  yMin: -2.5, yMax: 2.5, yTicks: R_Y_TICKS, yFmt: fmtInt,
  notes: [
    { text: 'R3000 Grating', tx: 166, ty: 27, size: 20 },
    { text: 'Slitlet 13 (Middle)', tx: 165, ty: 300 },
  ],
});

panel('p-rmean', { l: 875, t: 441, r: 1212, b: 780 }, {
  datasets: meanSets(R_JD, R_MEAN, R_ERR, R_MEAN_PIXEL),
  xMax: 800, xTicks: JD_TICKS, xFmt: v => String(v), xTitle: 'JD - 2456400',
  yMin: -2.5, yMax: 2.5, yTicks: R_Y_TICKS, yFmt: fmtInt,
  notes: [{ text: 'Mean Across Columns', tx: 318, ty: 28, align: 'right' }],
});
</script>
</body>
</html>
